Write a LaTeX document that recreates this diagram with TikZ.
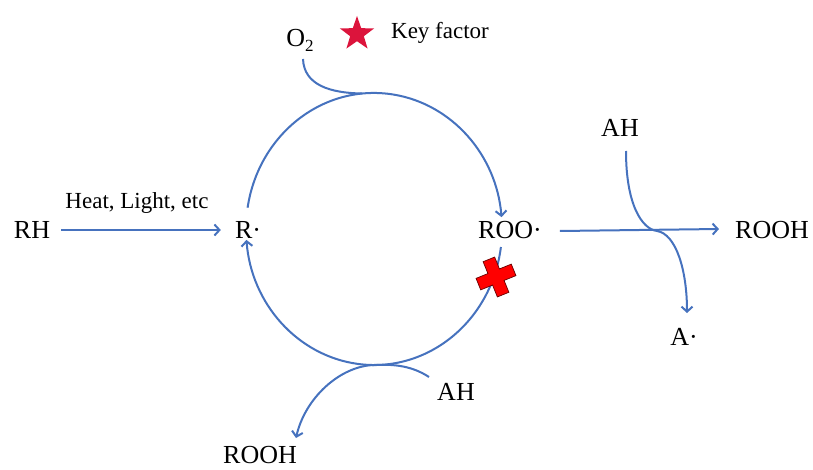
\documentclass[tikz,border=0pt]{standalone}
\usepackage{fontspec}
\setmainfont{Liberation Serif}
\usetikzlibrary{arrows.meta,shapes.geometric}
\definecolor{lineblue}{RGB}{70,114,190}
\definecolor{starred}{RGB}{220,20,60}
\begin{document}
\begin{tikzpicture}[x=1pt,y=-1pt,
  lbl/.style={font=\fontsize{26}{30}\selectfont, inner sep=1pt},
  small/.style={font=\fontsize{23}{27}\selectfont, inner sep=1pt},
  conn/.style={draw=lineblue, line width=2pt},
  arr/.style={conn, -{Straight Barb[length=5pt,width=11pt]}},
  crossmark/.style={fill=red, draw=black!60!red, line width=0.7pt}]
\useasboundingbox (0,0) rectangle (813,470);
% labels
\node[lbl] (rh) at (32,230) {RH};
\node[lbl] (r) at (248,230) {R·};
\node[lbl] (roo) at (510,230) {ROO·};
\node[lbl] (rooh1) at (772,230) {ROOH};
\node[lbl] (ah1) at (620,128) {AH};
\node[lbl] (a) at (684,337) {A·};
\node[lbl] (ah2) at (456,392) {AH};
\node[lbl] (rooh2) at (260,455) {ROOH};
\node[lbl] (o2) at (300,40) {O\raisebox{-5pt}{\fontsize{17}{20}\selectfont 2}};
\node[star, star points=5, star point ratio=2.5, fill=starred, minimum size=36pt, inner sep=0pt] (star) at (357,34) {};
\node[small] (key) at (440,33) {Key factor};
\node[small] (heat) at (137,203) {Heat, Light, etc};
% free ends
\coordinate (c) at (374,229);
\coordinate (topL) at (247.6,207.7);
\coordinate (botR) at (500.9,247);
\coordinate (o2s) at (303,59);
\coordinate (ah2s) at (429,377);
\coordinate (ah1s) at (626,151);
\coordinate (mid) at (657,231);
% straight arrows
\draw[arr, shorten <=10pt, shorten >=13pt] (rh) -- (r);
\draw[arr] ([xshift=17pt,yshift=-1pt]roo.east) -- ([xshift=-15pt,yshift=1pt]rooh1.west);
% cycle arcs
\draw[arr] (topL) arc[start angle=-171, end angle=-5, x radius=128, y radius=136];
\draw[arr] (botR) arc[start angle=7.6, end angle=175.4, x radius=128, y radius=136];
% O2 inlet
\draw[conn] (o2s) .. controls (304,85) and (330,93) .. (362,93.5);
% bottom AH -> ROOH
\draw[arr] (ah2s) .. controls (412,366) and (395,364) .. (374,365) .. controls (340,366) and (305,398) .. (296,438);
% right AH -> A.
\draw[arr] (ah1s) .. controls (626,205) and (642,229) .. (mid) .. controls (676,234) and (687,270) .. (687,313);
% red cross
\begin{scope}[shift={(496,277)}, rotate=22]
\path[crossmark] (-19pt,-6.2pt) -- (-6.2pt,-6.2pt) -- (-6.2pt,-19pt) -- (6.2pt,-19pt) -- (6.2pt,-6.2pt) -- (19pt,-6.2pt) -- (19pt,6.2pt) -- (6.2pt,6.2pt) -- (6.2pt,19pt) -- (-6.2pt,19pt) -- (-6.2pt,6.2pt) -- (-19pt,6.2pt) -- cycle;
\end{scope}
\end{tikzpicture}
\end{document}
